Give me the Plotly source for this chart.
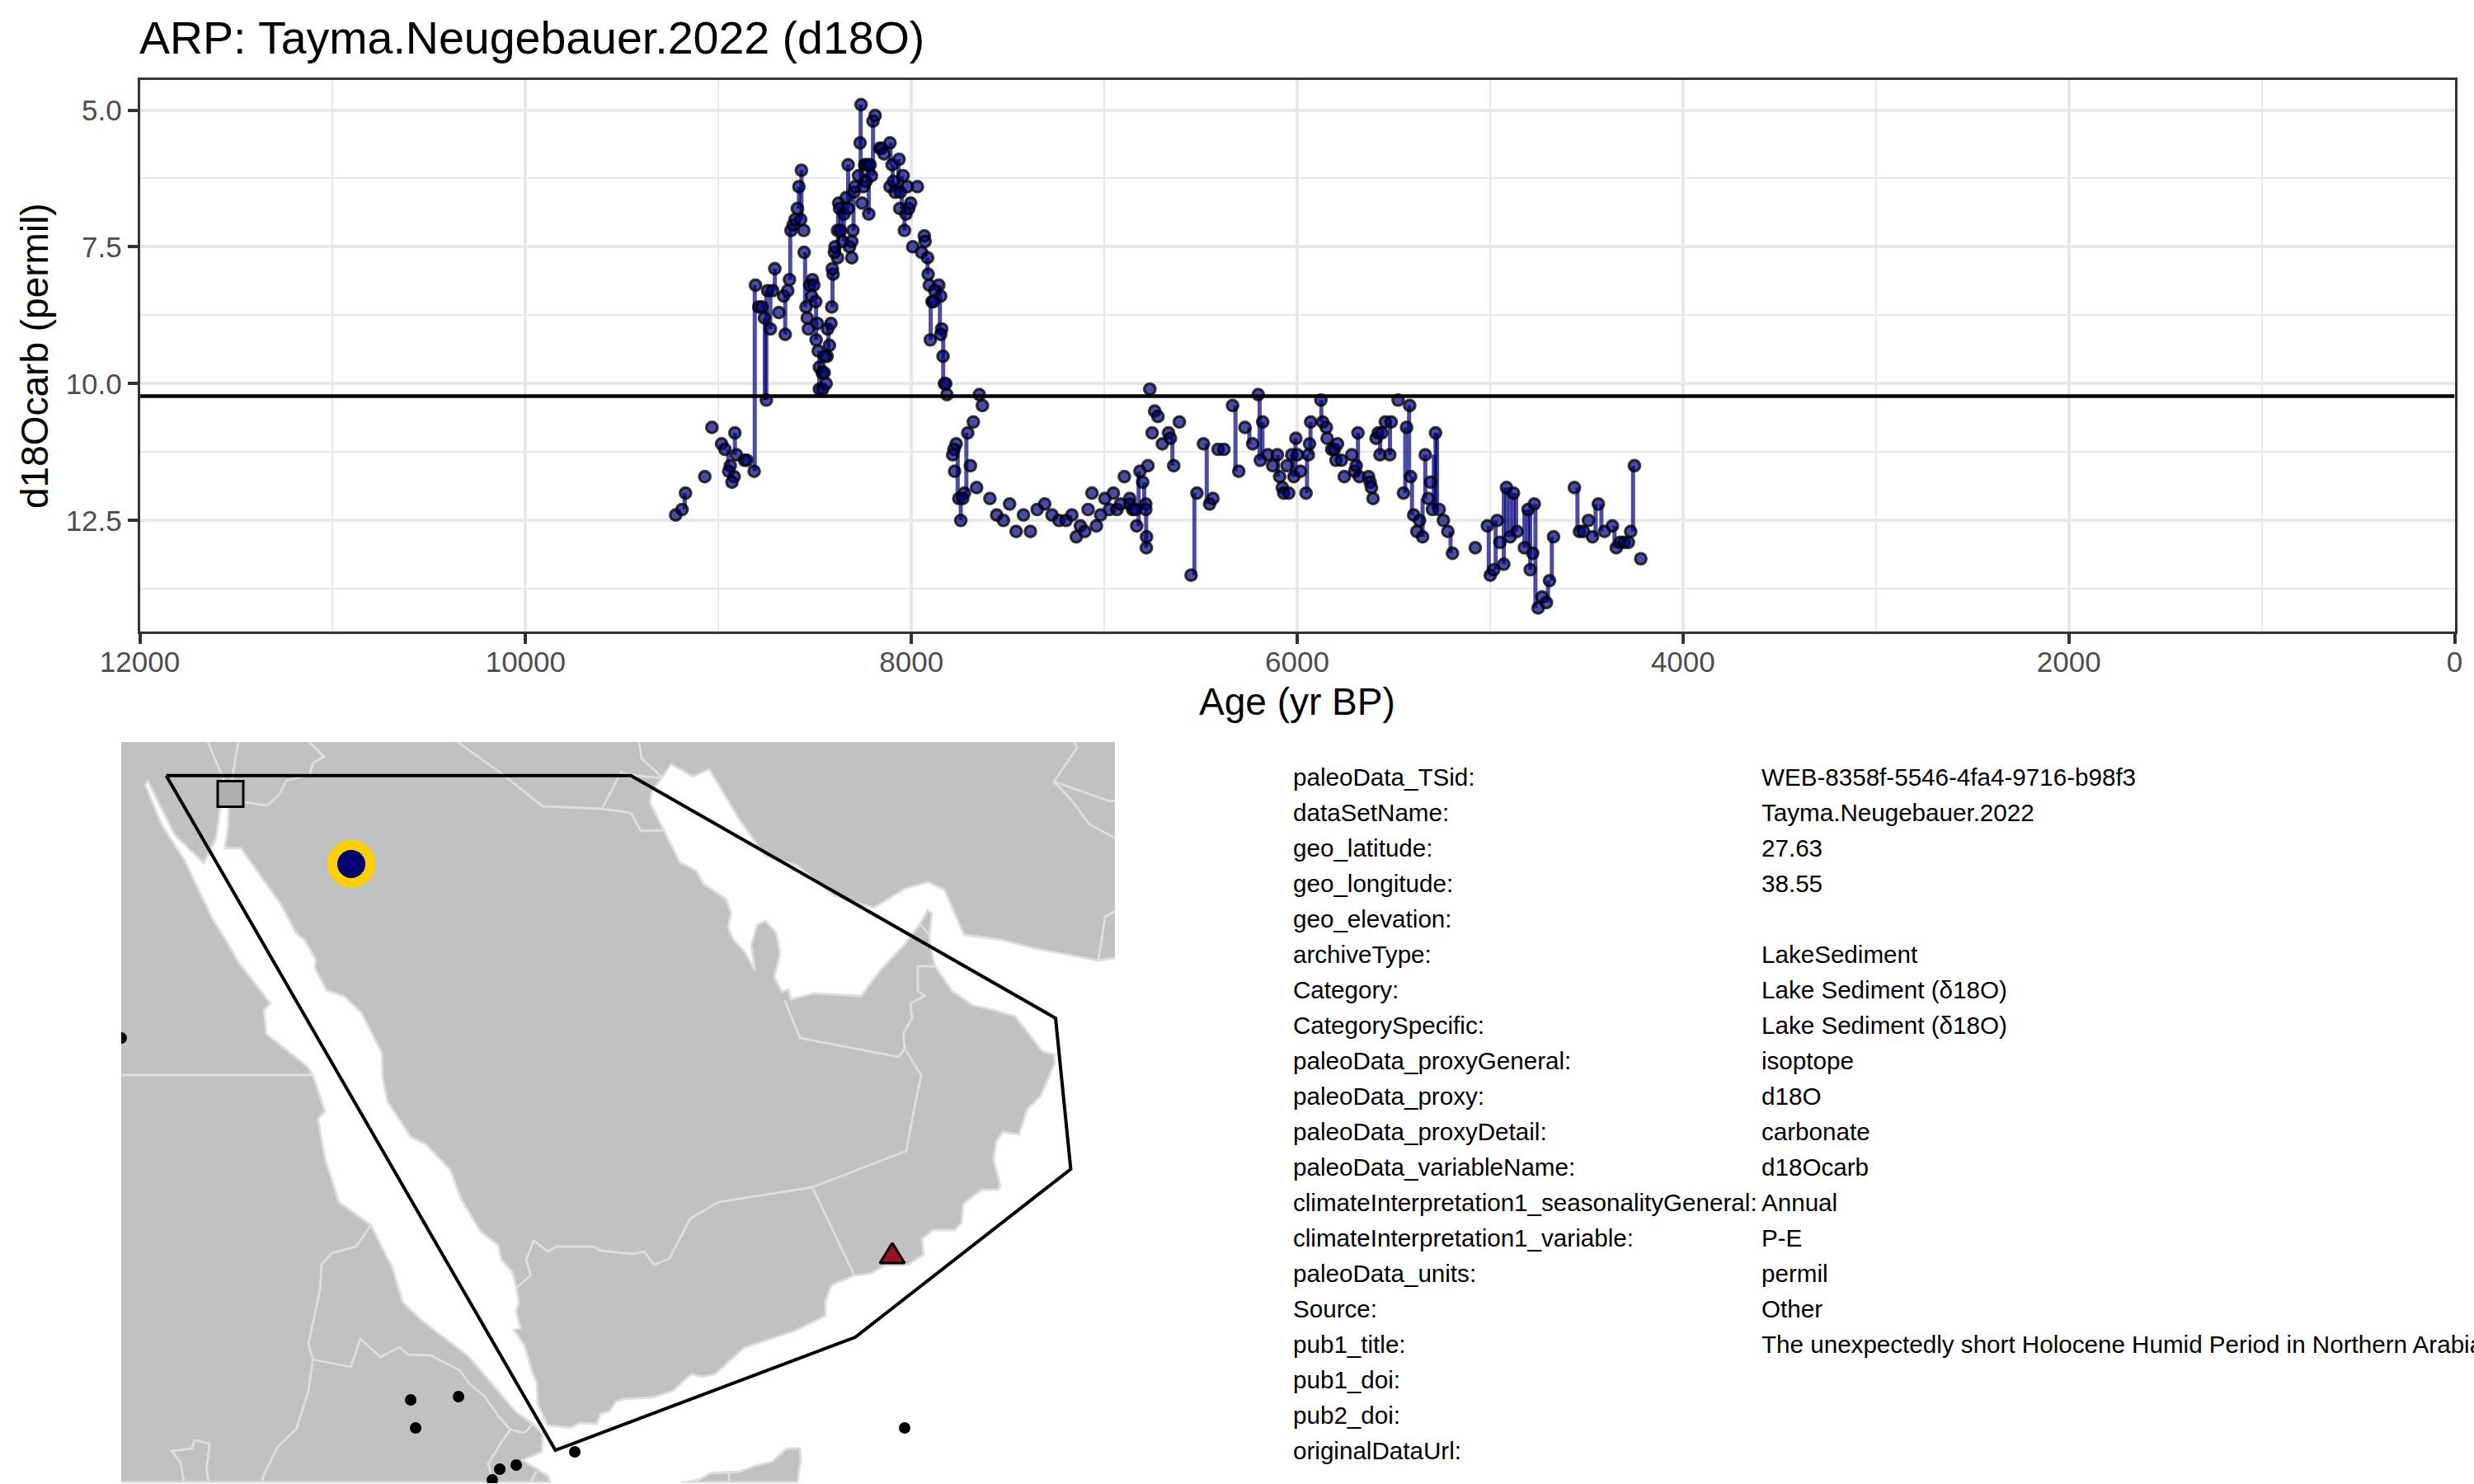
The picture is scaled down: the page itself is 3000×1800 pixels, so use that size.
import plotly.graph_objects as go

TITLE = "ARP: Tayma.Neugebauer.2022 (d18O)"
X_TITLE = "Age (yr BP)"
Y_TITLE = "d18Ocarb (permil)"
X_TICKS = [12000, 10000, 8000, 6000, 4000, 2000, 0]
Y_TICKS = [5.0, 7.5, 10.0, 12.5]
Y_TICK_LABELS = ["5.0", "7.5", "10.0", "12.5"]
MEAN_VALUE = 10.23

AGE = [9222, 9189, 9171, 9071, 9034, 8984, 8967, 8915, 8907, 8939, 8947, 8919, 8930, 8865, 8853, 8815, 8808, 8791, 8774, 8762,
       8752, 8731, 8745, 8719, 8708, 8687, 8662, 8654, 8641, 8632, 8624, 8613, 8603, 8574, 8591, 8583, 8570, 8558, 8556, 8546,
       8540, 8534, 8527, 8513, 8517, 8506, 8496, 8487, 8494, 8483, 8477, 8463, 8477, 8460, 8442, 8452, 8437, 8449, 8425, 8434,
       8417, 8413, 8406, 8410, 8383, 8399, 8396, 8377, 8372, 8383, 8368, 8356, 8349, 8338, 8328, 8328, 8321, 8309, 8309, 8303,
       8298, 8292, 8274, 8266, 8261, 8256, 8249, 8242, 8235, 8228, 8221, 8214, 8207, 8199, 8188, 8164, 8154, 8142, 8111, 8111,
       8100, 8093, 8085, 8064, 8060, 8057, 8043, 8028, 8036, 8021, 8014, 8004, 7969, 7993, 7933, 7929, 7947, 7916, 7913, 7907,
       7858, 7879, 7848, 7893, 7886, 7902, 7843, 7848, 7836, 7829, 7822, 7816, 7648, 7632, 7679, 7708, 7768, 7779, 7786, 7776,
       7694, 7662, 7725, 7754, 7734, 7744, 7593, 7558, 7523, 7491, 7457, 7419, 7383, 7348, 7309, 7271, 7235, 7198, 7168, 7145,
       7124, 7101, 7084, 7064, 7041, 7019, 6997, 6973, 6953, 6934, 6916, 6896, 6868, 6868, 6853, 6839, 6832, 6815, 6801, 6785,
       6785, 6781, 6782, 6774, 6764, 6752, 6739, 6722, 6699, 6667, 6657, 6640, 6611, 6550, 6520, 6486, 6454, 6437, 6410, 6380,
       6335, 6303, 6271, 6231, 6202, 6191, 6179, 6152, 6127, 6103, 6091, 6077, 6070, 6044, 6053, 6028, 6017, 6007, 5999, 5983,
       5954, 5942, 5936, 5930, 5877, 5868, 5849, 5845, 5821, 5807, 5791, 5799, 5771, 5756, 5717, 5702, 5685, 5678, 5694, 5630,
       5622, 5615, 5607, 5591, 5580, 5561, 5571, 5543, 5520, 5513, 5477, 5449, 5433, 5417, 5412, 5396, 5380, 5366, 5350, 5336,
       5321, 5309, 5299, 5283, 5264, 5242, 5219, 5195, 5077, 5014, 4999, 4981, 4963, 4949, 4929, 4915, 4896, 4879, 4860, 4822,
       4803, 4792, 4779, 4771, 4751, 4731, 4708, 4692, 4671, 4563, 4537, 4516, 4490, 4469, 4439, 4407, 4366, 4346, 4326, 4305,
       4283, 4271, 4252, 4219]
D18O = [12.4, 12.3, 12.0, 11.7, 10.8, 11.1, 11.2, 10.9, 11.3, 11.5, 11.6, 11.7, 11.8, 11.4, 11.4, 11.6, 8.2, 8.6, 8.6, 8.8,
        10.3, 9.0, 8.3, 8.3, 7.9, 8.7, 8.4, 9.1, 8.3, 8.1, 7.2, 7.1, 7.0, 7.0, 6.8, 6.4, 6.1, 7.2, 7.6, 8.6,
        8.8, 9.0, 8.2, 8.1, 8.4, 8.2, 8.5, 8.9, 9.2, 9.4, 9.7, 9.8, 10.1, 10.1, 10.0, 9.8, 9.5, 9.5, 9.3, 9.0,
        8.9, 8.6, 8.0, 7.9, 7.7, 7.6, 7.5, 6.7, 6.8, 7.2, 7.2, 7.4, 6.9, 6.6, 6.8, 6.0, 7.5, 7.7, 7.4, 7.2,
        6.5, 6.4, 6.2, 5.6, 4.9, 6.7, 6.4, 6.0, 6.3, 6.0, 6.9, 6.0, 6.2, 5.2, 5.1, 5.7, 5.7, 5.8, 5.6, 6.4,
        6.0, 6.3, 6.5, 5.9, 6.8, 6.5, 6.2, 6.9, 7.2, 6.4, 6.8, 6.7, 6.4, 7.5, 7.3, 7.4, 7.6, 7.7, 8.0, 8.2,
        8.2, 8.3, 8.4, 8.5, 8.5, 9.2, 9.0, 9.1, 9.5, 10.0, 10.0, 10.2, 10.2, 10.4, 10.7, 10.9, 11.1, 11.2, 11.3, 11.6,
        11.5, 11.9, 12.0, 12.1, 12.1, 12.5, 12.1, 12.4, 12.5, 12.2, 12.7, 12.4, 12.7, 12.3, 12.2, 12.4, 12.5, 12.5, 12.4, 12.8,
        12.6, 12.7, 12.3, 12.0, 12.6, 12.4, 12.1, 12.3, 12.0, 12.3, 12.2, 11.7, 12.1, 12.2, 12.3, 12.3, 12.6, 11.6, 11.8, 12.2,
        12.3, 12.8, 13.0, 11.5, 10.1, 10.9, 10.5, 10.6, 11.1, 10.9, 11.0, 11.5, 10.7, 13.5, 12.0, 11.1, 12.2, 12.1, 11.2, 11.2,
        10.4, 11.6, 10.8, 11.1, 10.2, 11.4, 10.7, 11.3, 11.5, 11.3, 11.7, 11.9, 12.0, 12.0, 11.5, 11.3, 11.7, 11.0, 11.3, 11.6,
        12.0, 11.3, 11.1, 10.7, 10.3, 10.7, 10.8, 11.0, 11.2, 11.2, 11.1, 11.4, 11.4, 11.7, 11.3, 11.6, 10.9, 11.7, 11.5, 11.7,
        11.8, 11.9, 12.1, 11.0, 10.9, 10.9, 11.3, 10.7, 11.3, 10.7, 10.3, 12.0, 10.8, 10.4, 11.7, 12.4, 12.7, 12.5, 12.8, 11.3,
        12.1, 11.8, 12.3, 10.9, 12.3, 12.5, 12.7, 13.1, 13.0, 12.6, 13.5, 13.4, 12.5, 12.9, 13.3, 11.9, 12.8, 12.0, 12.7, 13.0,
        12.3, 13.4, 13.1, 12.2, 14.1, 13.9, 14.0, 13.6, 12.8, 11.9, 12.7, 12.7, 12.5, 12.8, 12.2, 12.7, 12.6, 13.0, 12.9, 12.9,
        12.9, 12.7, 11.5, 13.2]

SEG_AGE = [9175, 8950, 8915, 8812, 8760, 8752, 8731, 8708, 8654, 8628, 8583, 8570, 8551, 8494, 8477, 8430, 8409, 8380, 8365, 8350,
           8328, 8300, 8263, 8221, 8199, 8108, 8097, 8067, 8050, 8036, 7916, 7900, 7852, 7835, 7760, 7744, 7715,
           6822, 6793, 6783, 6647, 6533, 6469, 6320, 6248, 6195, 6180, 6100, 6025, 6009, 5949, 5931, 5875, 5685,
           5570, 5519, 5440, 5420, 5405, 5350, 5336, 5292, 5283, 5275, 5205, 5007, 4971, 4929, 4915, 4897, 4879, 4865,
           4822, 4803, 4792, 4765, 4700, 4680, 4547, 4453, 4423, 4355, 4259]
SEG_TOP = [12.0, 11.2, 10.9, 8.2, 8.8, 8.3, 8.3, 7.9, 8.4, 7.2, 6.4, 6.1, 7.6, 8.5, 9.4, 8.9, 8.0, 6.8, 6.8, 6.8,
           6.0, 6.5, 4.9, 6.0, 5.2, 5.6, 6.0, 5.9, 6.2, 6.8, 7.7, 8.5, 8.2, 9.0, 11.1, 12.1, 10.9,
           11.6, 11.8, 12.3, 11.0, 12.0, 11.1, 10.4, 10.8, 10.2, 10.7, 11.3, 11.3, 11.0, 11.3, 10.7, 10.3, 10.9,
           10.9, 10.7, 10.8, 10.4, 11.7, 12.1, 11.3, 11.3, 10.9, 10.9, 12.7, 12.6, 12.5, 11.9, 11.9, 11.9, 12.0, 12.0,
           12.3, 12.3, 12.3, 12.2, 13.6, 12.8, 11.9, 12.2, 12.2, 12.6, 11.5]
SEG_BOT = [12.3, 11.6, 11.3, 11.6, 10.3, 10.3, 9.0, 8.3, 9.1, 8.1, 6.8, 7.0, 8.6, 9.2, 10.1, 9.5, 8.6, 7.6, 7.2, 7.4,
           6.8, 7.2, 6.4, 6.9, 6.2, 6.0, 6.4, 6.5, 6.8, 7.2, 8.0, 9.2, 9.1, 10.0, 12.1, 12.5, 12.0,
           12.6, 12.3, 13.0, 11.5, 13.5, 12.2, 11.6, 11.1, 11.4, 11.3, 11.7, 11.7, 11.7, 12.0, 11.3, 10.7, 11.7,
           11.3, 11.3, 12.0, 11.7, 12.4, 12.8, 12.1, 12.3, 12.3, 12.3, 13.1, 13.5, 13.4, 13.3, 12.8, 12.8, 12.8, 12.7,
           13.0, 13.0, 13.4, 14.1, 14.0, 13.6, 12.7, 12.8, 12.7, 13.0, 12.7]

# Base map, digitised in the map's own projected units
MAP_X_RANGE = [147, 1352]
MAP_Y_RANGE = [1799, 900]
LAND_X = [147, 1352, 1352, 147, 147]
LAND_Y = [900, 900, 1799, 1799, 900]

EAST_COAST_X = [277, 276.6, 272.4, 292, 340, 358.5, 370, 383, 382, 396, 418, 438, 463, 464, 470, 472.5, 498, 516.5, 546, 559.4, 583, 604, 608, 620.6, 626, 629.4, 625.6, 631, 623, 636, 645, 651, 652, 664, 692, 703, 724, 728, 739, 747, 757, 791, 816, 838, 851, 867, 902, 964.5, 1001, 1001, 1008, 1036, 1055, 1073, 1101, 1120, 1118, 1132, 1157.5, 1166, 1168, 1191, 1210, 1213, 1205, 1208, 1216, 1235.6, 1246, 1261.6, 1279, 1278, 1264, 1231, 1205, 1179, 1154.5, 1134, 1128, 1127, 1130, 1125, 1116, 1095, 1069, 1044, 987, 959, 956, 948, 939, 946, 941.5, 928, 918, 911, 915.5, 902, 889.5, 883, 886.5, 881, 853, 844, 824.5, 788, 790, 803, 814, 840, 860, 897, 928, 967, 1012, 1060, 1097, 1126, 1145, 1169, 1214, 1257, 1332, 1353]
EAST_COAST_Y = [980, 1003, 1029, 1029, 1096, 1131, 1141, 1164, 1175, 1201, 1209, 1228, 1277, 1307, 1337, 1340, 1379, 1388, 1419, 1455, 1494, 1510, 1528, 1542, 1560, 1581, 1590, 1611, 1613, 1632, 1663, 1678, 1703, 1729, 1732, 1726, 1727, 1715, 1712, 1700, 1697, 1695, 1687, 1667, 1670, 1667, 1635, 1614, 1596, 1579, 1559, 1547, 1545, 1535, 1534, 1522, 1503, 1492, 1492, 1483, 1460, 1443, 1443, 1438, 1407, 1385, 1373, 1376, 1345, 1330, 1290, 1279, 1275, 1233, 1225, 1219, 1202, 1172, 1148, 1135, 1108, 1104, 1120, 1148, 1175, 1208, 1205, 1212, 1200, 1203, 1185, 1157, 1132, 1117, 1122, 1147, 1177, 1153, 1140, 1125, 1108, 1091, 1072, 1056, 1046, 973, 961, 943, 927, 942, 933, 995, 1038, 1050, 1087, 1101, 1078, 1070, 1079, 1134, 1140, 1151, 1165, 1162]
SOMALIA_X = [967, 971, 970, 954, 936, 915, 897, 861, 847, 826]
SOMALIA_Y = [1799, 1770, 1757, 1757, 1773, 1778, 1785, 1787, 1795, 1799]
AFRICA_COAST_X = [667.7, 664.6, 633, 657, 658, 646.6, 626, 568, 513, 488.6, 476, 449.6, 411, 394, 385.6, 394, 379.5, 373, 323, 320, 328, 289, 275, 258, 224, 196, 176, 179, 212, 247, 262, 267, 273.5, 277]
AFRICA_COAST_Y = [1799, 1790, 1771, 1761, 1740, 1727, 1713, 1645, 1603, 1580, 1538, 1486, 1458, 1405, 1357, 1348, 1304, 1294, 1254, 1225, 1217, 1167, 1142, 1115, 1044, 1000, 952, 947, 1013, 1047, 1017, 980, 975, 980]

BORDERS_X = [
    [252, 268.5, 272], [289, 282, 279], [375, 393, 380, 375, 347, 339, 324, 296.5],
    [555, 608, 658, 730, 765, 777, 804], [730, 753, 765, 803], [775, 778, 803],
    [1303, 1306, 1278, 1300.6, 1321, 1353], [1278, 1346, 1353], [1353, 1340, 1332],
    [951.5, 970, 1090, 1097, 1095.5, 1106, 1104, 1121.5, 1113, 1113, 1134], [1115, 1128],
    [1097, 1117, 1108, 1099, 985, 1036], [985, 871, 837, 811.5, 793, 781.5, 767, 728, 720, 675, 664.6, 647.4, 638, 643.6, 627.5],
    [147, 379], [449.6, 431.6, 402.5, 390, 388, 374, 379.5, 374, 359.6, 336.7, 319.4, 318],
    [379.5, 425.4, 437, 461.4, 484.4, 494.7, 522, 557.5, 569, 587, 604.6, 618.7, 636, 646.6],
    [618.7, 606.5, 592, 598], [650.5, 643], [223, 219, 208.5, 233, 236, 254, 250.5, 253], [884, 884],
    [147, 667], [826, 967],
]
BORDERS_Y = [
    [900, 940, 947], [900, 940, 970], [900, 918, 925, 940, 947, 963, 977, 973],
    [900, 938, 978, 981, 986, 1008, 1007], [981, 937, 940, 944], [900, 920, 943],
    [900, 907, 948, 972, 1000, 1017], [948, 972, 971], [1105, 1112, 1165],
    [1213, 1259, 1282, 1272, 1253, 1235, 1217, 1208, 1202, 1172, 1172], [1120, 1135],
    [1272, 1304, 1348, 1396, 1440, 1547], [1440, 1458, 1478, 1527, 1534, 1518, 1521, 1517, 1512, 1512, 1518, 1505, 1528, 1547, 1561],
    [1304, 1304], [1486, 1512, 1520, 1533, 1565, 1630, 1649, 1687, 1733, 1755, 1790, 1798],
    [1649, 1658, 1624, 1646, 1634, 1643, 1644, 1662, 1678, 1693, 1718, 1734, 1738, 1727],
    [1734, 1752, 1775, 1798], [1785, 1798], [1798, 1774, 1760, 1757, 1747, 1751, 1783, 1798], [1787, 1798],
    [1798, 1798], [1798, 1798],
]

REGION_X = [201.6, 765, 1280, 1298.4, 1037, 673.4, 201.6]
REGION_Y = [940.7, 940.7, 1235, 1418, 1622, 1759, 940.7]
OTHER_SITES_X = [498, 556, 504, 626, 606, 597, 697, 1097, 147]
OTHER_SITES_Y = [1698, 1694, 1732, 1777, 1782, 1795, 1761, 1732, 1259]
SQUARE_SITE_X = [279.5]
SQUARE_SITE_Y = [963]
TRIANGLE_SITE_X = [1082, 1067, 1097, 1082]
TRIANGLE_SITE_Y = [1507.5, 1532, 1532, 1507.5]
THIS_SITE_X = [426]
THIS_SITE_Y = [1048]

META_KEYS = ["paleoData_TSid:", "dataSetName:", "geo_latitude:", "geo_longitude:", "geo_elevation:", "archiveType:", "Category:",
             "CategorySpecific:", "paleoData_proxyGeneral:", "paleoData_proxy:", "paleoData_proxyDetail:", "paleoData_variableName:",
             "climateInterpretation1_seasonalityGeneral:", "climateInterpretation1_variable:", "paleoData_units:", "Source:",
             "pub1_title:", "pub1_doi:", "pub2_doi:", "originalDataUrl:"]
META_VALUES = ["WEB-8358f-5546-4fa4-9716-b98f3", "Tayma.Neugebauer.2022", "27.63", "38.55", "", "LakeSediment", "Lake Sediment (δ18O)",
               "Lake Sediment (δ18O)", "isoptope", "d18O", "carbonate", "d18Ocarb", "Annual", "P-E", "permil", "Other",
               "The unexpectedly short Holocene Humid Period in Northern Arabia", "", "", ""]

FONT = "Liberation Sans"
W, H = 3000, 1800
NAVY = "rgba(0,0,128,0.7)"
COAST = "#DEDEDE"


def join_parts(parts):
    out = []
    for part in parts:
        out += list(part) + [None]
    return out


fig = go.Figure()

seg_x = join_parts([[a, a] for a in SEG_AGE])
seg_y = join_parts([[t, b] for t, b in zip(SEG_TOP, SEG_BOT)])
fig.add_trace(go.Scatter(x=seg_x, y=seg_y, mode="lines", line=dict(color=NAVY, width=5), xaxis="x", yaxis="y",
                         hoverinfo="skip", connectgaps=False))
fig.add_trace(go.Scatter(x=AGE, y=D18O, mode="markers", xaxis="x", yaxis="y",
                         marker=dict(size=13.5, color=NAVY, line=dict(color="rgba(0,0,0,0.75)", width=3.2))))
fig.add_trace(go.Scatter(x=[X_TICKS[0], X_TICKS[-1]], y=[MEAN_VALUE, MEAN_VALUE], mode="lines", xaxis="x", yaxis="y",
                         line=dict(color="black", width=4.5)))

# Map
fig.add_trace(go.Scatter(x=LAND_X, y=LAND_Y, mode="lines", fill="toself", fillcolor="#C1C1C1", line=dict(width=0),
                         xaxis="x2", yaxis="y2"))
sea_x = EAST_COAST_X + [1353] + SOMALIA_X + AFRICA_COAST_X
sea_y = EAST_COAST_Y + [1799] + SOMALIA_Y + AFRICA_COAST_Y
fig.add_trace(go.Scatter(x=sea_x, y=sea_y, mode="lines", fill="toself", fillcolor="white", line=dict(width=0),
                         xaxis="x2", yaxis="y2"))
fig.add_trace(go.Scatter(x=join_parts([EAST_COAST_X, SOMALIA_X, AFRICA_COAST_X] + BORDERS_X),
                         y=join_parts([EAST_COAST_Y, SOMALIA_Y, AFRICA_COAST_Y] + BORDERS_Y),
                         mode="lines", line=dict(color=COAST, width=2.8), xaxis="x2", yaxis="y2"))
fig.add_trace(go.Scatter(x=REGION_X, y=REGION_Y, mode="lines", line=dict(color="black", width=4), xaxis="x2", yaxis="y2"))
fig.add_trace(go.Scatter(x=OTHER_SITES_X, y=OTHER_SITES_Y, mode="markers", marker=dict(size=14, color="black"), xaxis="x2", yaxis="y2"))
fig.add_trace(go.Scatter(x=SQUARE_SITE_X, y=SQUARE_SITE_Y, mode="markers", xaxis="x2", yaxis="y2",
                         marker=dict(symbol="square", size=31, color="#B0B0B0", line=dict(color="black", width=3))))
fig.add_trace(go.Scatter(x=TRIANGLE_SITE_X, y=TRIANGLE_SITE_Y, mode="lines", fill="toself", fillcolor="#9B111E",
                         line=dict(color="black", width=3), xaxis="x2", yaxis="y2"))
fig.add_trace(go.Scatter(x=THIS_SITE_X, y=THIS_SITE_Y, mode="markers", xaxis="x2", yaxis="y2",
                         marker=dict(size=46, color="#000075", line=dict(color="#FFD000", width=12))))

annotations = []
ROW0, ROW_STEP = 942, 43.0
for i, (k, v) in enumerate(zip(META_KEYS, META_VALUES)):
    yy = 1 - (ROW0 + i * ROW_STEP) / H
    annotations.append(dict(text=k, x=1566 / W, y=yy, xref="paper", yref="paper", xanchor="left", yanchor="middle",
                            showarrow=False, font=dict(family=FONT, size=29.6, color="black")))
    if v:
        annotations.append(dict(text=v, x=2134 / W, y=yy, xref="paper", yref="paper", xanchor="left", yanchor="middle",
                                showarrow=False, font=dict(family=FONT, size=29.6, color="black")))
annotations.append(dict(text=X_TITLE, x=1573 / W, y=1 - 851 / H, xref="paper", yref="paper", xanchor="center", yanchor="middle",
                        showarrow=False, font=dict(family=FONT, size=46, color="black")))
annotations.append(dict(text=Y_TITLE, x=42 / W, y=1 - 432 / H, xref="paper", yref="paper", xanchor="center", yanchor="middle",
                        textangle=-90, showarrow=False, font=dict(family=FONT, size=46, color="black")))

axis_common = dict(showline=True, mirror=True, linecolor="#333333", linewidth=2.5, zeroline=False, automargin=False,
                   ticks="outside", ticklen=12, tickwidth=3.5, tickcolor="#333333",
                   tickfont=dict(family=FONT, size=35, color="#4D4D4D"),
                   showgrid=True, gridcolor="#E8E8E8", gridwidth=4)

fig.update_layout(
    width=W, height=H, showlegend=False, paper_bgcolor="white", plot_bgcolor="white",
    margin=dict(l=0, r=0, t=0, b=0), annotations=annotations,
    title=dict(text=TITLE, x=169 / W, y=1 - 46 / H, xanchor="left", yanchor="middle", xref="paper", yref="container",
               automargin=False, font=dict(family=FONT, size=55.5, color="black")),
    xaxis=dict(domain=[169.5 / W, 2976.5 / W], range=[X_TICKS[0], X_TICKS[-1]], anchor="y", tickvals=X_TICKS, tickformat="d",
               ticklabelstandoff=-8,
               minor=dict(showgrid=True, gridcolor="#E8E8E8", gridwidth=2, tick0=0, dtick=1000, ticks=""), **axis_common),
    yaxis=dict(domain=[1 - 766 / H, 1 - 97 / H], range=[14.53, 4.45], anchor="x", tickvals=Y_TICKS, ticktext=Y_TICK_LABELS,
               minor=dict(showgrid=True, gridcolor="#E8E8E8", gridwidth=2, tick0=5, dtick=1.25, ticks=""), **axis_common),
    xaxis2=dict(domain=[147 / W, 1352 / W], range=MAP_X_RANGE, anchor="y2", visible=False),
    yaxis2=dict(domain=[1 - 1799 / H, 1 - 900 / H], range=MAP_Y_RANGE, anchor="x2", visible=False),
)

fig.write_html("out.html", config={"displayModeBar": False},
               post_script="document.body.style.margin='0';document.documentElement.style.overflow='hidden';")
